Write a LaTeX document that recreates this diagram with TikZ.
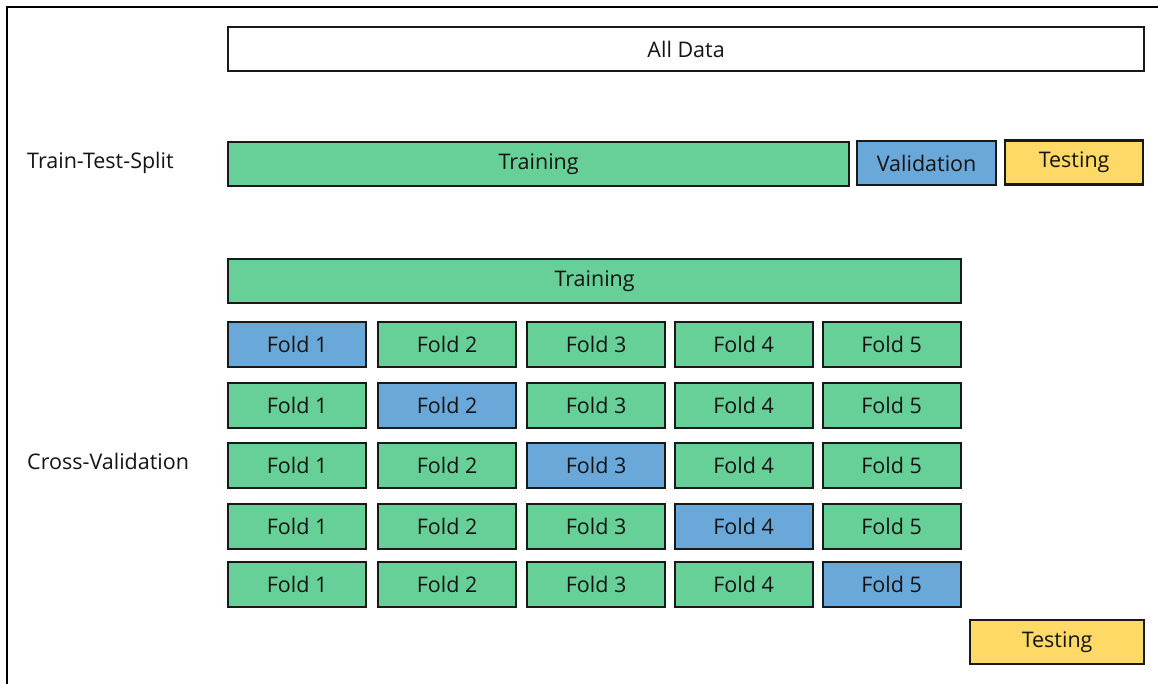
\documentclass[tikz,border=0pt]{standalone}
\usepackage{fontspec}
\setmainfont{Open Sans}
\definecolor{trgreen}{RGB}{102,208,152}
\definecolor{valblue}{RGB}{106,168,218}
\definecolor{tstyellow}{RGB}{255,217,102}
\definecolor{edge}{RGB}{25,25,25}
\tikzset{
  cell/.style={draw=edge, line width=2.2pt, rectangle, anchor=north west, inner sep=0pt,
    font=\fontsize{21.5}{24}\selectfont, text=black!92},
  lbl/.style={anchor=west, inner sep=0pt, font=\fontsize{21.5}{24}\selectfont, text=black!92}
}
\begin{document}
\begin{tikzpicture}[x=1pt,y=-1pt]
\useasboundingbox (0,0) rectangle (1158,684);
\fill[white] (0,0) rectangle (1158,684);
\draw[line width=2.8pt] (7,684) -- (7,7) -- (1158,7);
% All data
\node[cell, fill=white, minimum width=916pt, minimum height=44pt] (all) at (227,26) {All Data};
% Train-test-split
\node[lbl] (tts) at (27,163) {Train-Test-Split};
\node[cell, fill=trgreen, minimum width=621pt, minimum height=44pt] (train1) at (227,141) {Training};
\node[cell, fill=valblue, minimum width=139pt, minimum height=44pt] (val1) at (856,140) {Validation};
\node[cell, fill=tstyellow, minimum width=138pt, minimum height=44pt] (test1) at (1004,139.5) {Testing};
% Cross-validation
\node[lbl] (cv) at (27,461) {Cross-Validation};
\node[cell, fill=trgreen, minimum width=733pt, minimum height=44pt] (train2) at (227,258) {Training};
\foreach \r/\y in {1/321,2/381.5,3/442,4/503,5/561}{
  \foreach \c/\x in {1/227,2/377,3/526,4/673.5,5/821.5}{
    \ifnum\r=\c \def\fc{valblue}\else\def\fc{trgreen}\fi
    \node[cell, fill=\fc, minimum width=138pt, minimum height=45pt] (f\r-\c) at (\x,\y) {Fold \c};
  }
}
\node[cell, fill=tstyellow, minimum width=174pt, minimum height=44pt] (test2) at (969,619) {Testing};
\end{tikzpicture}
\end{document}
